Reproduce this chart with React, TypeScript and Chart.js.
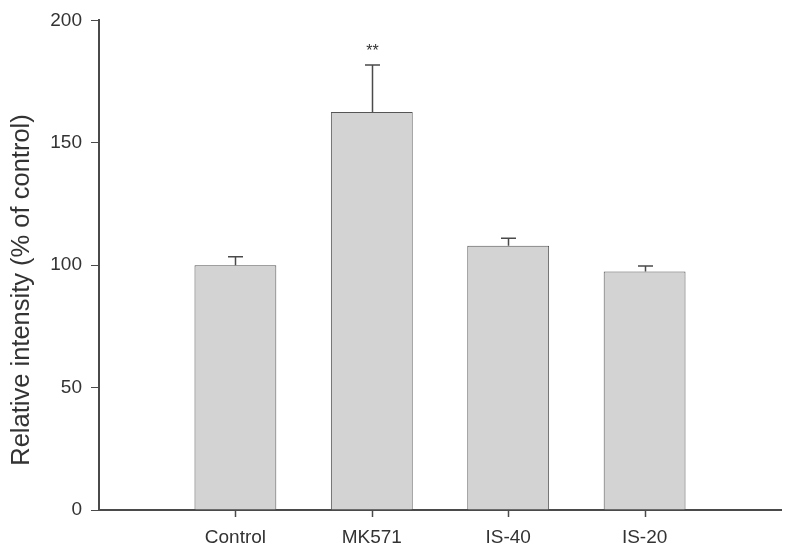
import React, { useEffect, useRef } from "react";
import { Chart, registerables } from "chart.js";

Chart.register(...registerables);

const categories = ["", "Control", "MK571", "IS-40", "IS-20", ""];
const means = [null, 100, 162.6, 107.9, 97.4, null];
const errors = [null, 3.5, 19.2, 3.1, 2.3, null];
const significance = ["", "", "**", "", "", ""];
const yTicks = [0, 50, 100, 150, 200];
const yTitle = "Relative intensity (% of control)";

const FONT = "Arial, 'Liberation Sans', Helvetica, sans-serif";
const TEXT = "#333333";
const LINE = "#4a4a4a";

const overlay = {
  id: "overlay",
  afterDatasetsDraw(chart: any) {
    const ctx = chart.ctx;
    const x = chart.scales.x;
    const y = chart.scales.y;
    ctx.save();
    ctx.strokeStyle = LINE;
    ctx.lineWidth = 1.5;
    for (let i = 0; i < categories.length; i++) {
      const px = Math.round(x.getPixelForValue(i)) + 0.5;
      if (categories[i]) {
        // x tick mark
        ctx.beginPath();
        ctx.moveTo(px, x.top + 1);
        ctx.lineTo(px, x.top + 7);
        ctx.stroke();
      }
      const m = means[i];
      const e = errors[i];
      if (m == null || e == null) continue;
      const top = y.getPixelForValue(m);
      const cap = y.getPixelForValue(m + e);
      ctx.beginPath();
      ctx.moveTo(px, top);
      ctx.lineTo(px, cap);
      ctx.moveTo(px - 7.5, cap);
      ctx.lineTo(px + 7.5, cap);
      ctx.stroke();
      if (significance[i]) {
        ctx.fillStyle = TEXT;
        ctx.font = `16px ${FONT}`;
        ctx.textAlign = "center";
        ctx.textBaseline = "middle";
        ctx.fillText(significance[i], px, cap - 13);
      }
    }
    // y axis title
    ctx.fillStyle = TEXT;
    ctx.font = `25.5px ${FONT}`;
    ctx.textAlign = "center";
    ctx.textBaseline = "middle";
    ctx.translate(22, 290);
    ctx.rotate(-Math.PI / 2);
    ctx.fillText(yTitle, 0, 0);
    ctx.restore();
  },
};

export default function App() {
  const ref = useRef<HTMLCanvasElement>(null);
  useEffect(() => {
    document.body.style.margin = "0";
    const chart = new Chart(ref.current!, {
      type: "bar",
      data: {
        labels: categories,
        datasets: [
          {
            data: means as any,
            backgroundColor: "#d3d3d3",
            borderColor: "#555555",
            borderWidth: 1,
            barPercentage: 0.6,
            categoryPercentage: 1,
          },
        ],
      },
      options: {
        animation: false,
        responsive: false,
        devicePixelRatio: 1,
        layout: { padding: { top: 17, right: 12, left: 0, bottom: 0 } },
        plugins: { legend: { display: false }, tooltip: { enabled: false } },
        scales: {
          x: {
            offset: false,
            afterFit: (s: any) => {
              s.height = 47;
            },
            border: { display: true, color: LINE, width: 2 },
            grid: {
              display: false,
              drawTicks: false,
            },
            ticks: {
              color: TEXT,
              font: { family: FONT, size: 19 },
              padding: 16,
              maxRotation: 0,
              autoSkip: false,
            },
          },
          y: {
            min: 0,
            max: 200,
            afterFit: (s: any) => {
              s.width = 99;
            },
            afterBuildTicks: (s: any) => {
              s.ticks = yTicks.map((v) => ({ value: v }));
            },
            border: { display: true, color: LINE, width: 2 },
            grid: {
              display: true,
              drawOnChartArea: false,
              drawTicks: true,
              tickLength: 8,
              color: LINE,
            },
            ticks: {
              color: TEXT,
              font: { family: FONT, size: 19 },
              padding: 9,
            },
          },
        },
      },
      plugins: [overlay],
    });
    return () => chart.destroy();
  }, []);
  return (
    <div style={{ width: 797, height: 557, background: "#fff" }}>
      <canvas ref={ref} width={797} height={557} style={{ display: "block" }} />
    </div>
  );
}
